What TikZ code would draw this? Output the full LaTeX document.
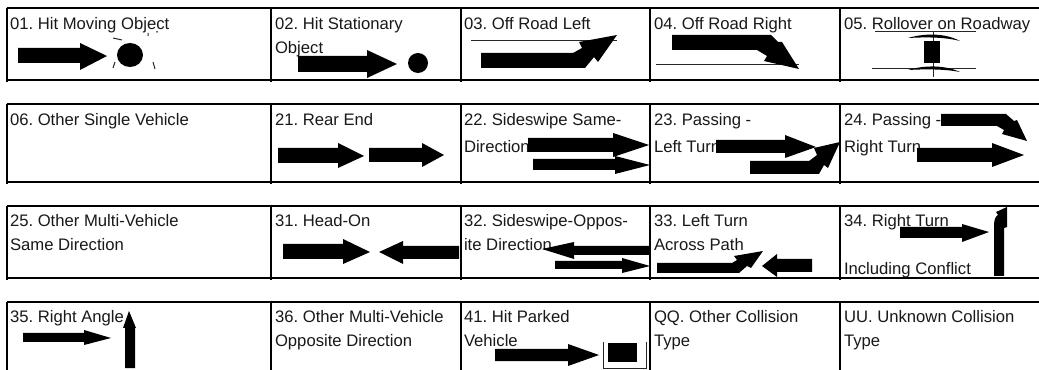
\documentclass[tikz,border=0pt]{standalone}
\usepackage{fontspec}
\setmainfont{Liberation Sans}
\frenchspacing
\tikzset{
  lab/.style={anchor=base west,inner sep=0pt,outer sep=0pt,font=\fontsize{12.5pt}{14pt}\selectfont,text=black!90,yshift=-0.6pt},
  grid/.style={draw=black,line width=1.3pt,line cap=butt},
  veh/.style={fill=black,draw=none},
  thin line/.style={draw=black!85,line width=0.75pt},
}
% right arrow: x0 xbase tip ytop ybot headtop headbot ytip
\newcommand{\arrowshape}[8]{\fill[veh] (#1,#4)--(#2,#4)--(#2,#6)--(#3,#8)--(#2,#7)--(#2,#5)--(#1,#5)--cycle;}
\begin{document}
\begin{tikzpicture}[x=0.75pt,y=-0.75pt]
\useasboundingbox (0,0) rectangle (1039,370);
\fill[white] (0,0) rectangle (1039,370);
% table rules
\foreach \a/\b in {8/82,104/184,206/280,302/370}{
  \foreach \x in {7,271,461,650,840}{\draw[grid] (\x,\a) -- (\x,\b);}
}
\foreach \y in {8,80,104,182,206,278,302}{\draw[grid] (6.5,\y) -- (1039,\y);}
% labels
\node[lab] (t01) at (10,29) {01. Hit Moving Object};
\node[lab] (t02) at (275,29) {02. Hit Stationary};
\node[lab] (t02b) at (275,53) {Object};
\node[lab] (t03) at (464,29) {03. Off Road Left};
\node[lab] (t04) at (654,29) {04. Off Road Right};
\node[lab] (t05) at (844,29) {05. Rollover on Roadway};
\node[lab] (t06) at (10,125) {06. Other Single Vehicle};
\node[lab] (t21) at (275,125) {21. Rear End};
\node[lab] (t22) at (464,125) {22. Sideswipe Same-};
\node[lab] (t22b) at (464,152) {Direction};
\node[lab] (t23) at (654,125) {23. Passing -};
\node[lab] (t23b) at (654,152) {Left Turn};
\node[lab] (t24) at (844,125) {24. Passing -};
\node[lab] (t24b) at (844,152) {Right Turn};
\node[lab] (t25) at (10,226) {25. Other Multi-Vehicle};
\node[lab] (t25b) at (10,250) {Same Direction};
\node[lab] (t31) at (275,226) {31. Head-On};
\node[lab] (t32) at (464,226) {32. Sideswipe-Oppos-};
\node[lab] (t32b) at (464,250) {ite Direction};
\node[lab] (t33) at (654,226) {33. Left Turn};
\node[lab] (t33b) at (654,250) {Across Path};
\node[lab] (t34) at (844,226) {34. Right Turn};
\node[lab] (t34b) at (844,274) {Including Conflict};
\node[lab] (t35) at (10,322) {35. Right Angle};
\node[lab] (t36) at (275,322) {36. Other Multi-Vehicle};
\node[lab] (t36b) at (275,346) {Opposite Direction};
\node[lab] (t41) at (464,322) {41. Hit Parked};
\node[lab] (t41b) at (464,346) {Vehicle};
\node[lab] (tqq) at (654,322) {QQ. Other Collision};
\node[lab] (tqqb) at (654,346) {Type};
\node[lab] (tuu) at (844,322) {UU. Unknown Collision};
\node[lab] (tuub) at (844,346) {Type};
% 01
\arrowshape{18}{80}{107}{48}{63}{43}{70}{56}
\fill[veh] (130,55) ellipse [x radius=13,y radius=12];
\draw[thin line] (113,38)--(122,40) (148,33)--(148,36) (156,32)--(158,32) (113,68)--(115,62) (153,62)--(155,69);
% 02
\arrowshape{298}{367}{397}{56}{72}{50}{78}{64}
\fill[veh] (418,63) circle [radius=10];
% 03
\draw[thin line] (471,41)--(617,41);
\fill[veh] (481,53)--(573,53)--(582,48)--(579,42)--(617,35)--(598,62)--(594,57)--(585,68)--(481,68)--cycle;
% 04
\draw[thin line] (656,65)--(799,65);
\fill[veh] (672,35)--(771,35)--(778,42)--(782,42)--(799,69)--(764,61)--(767,56)--(757,50)--(672,50)--cycle;
% 05
\draw[thin line] (875,32)--(976,32) (872,69)--(976,69) (933,31)--(933,77);
\fill[veh] (924,41) rectangle (940,63);
\fill[veh] (908,38) .. controls (925,33) and (945,33) .. (960,41) .. controls (945,37) and (925,37) .. (908,38) -- cycle;
\fill[veh] (908,70) .. controls (925,65) and (945,65) .. (960,72) .. controls (945,69) and (925,69) .. (908,70) -- cycle;
% 21
\arrowshape{278}{338}{364}{148}{163}{143}{168}{156}
\arrowshape{369}{422}{444}{148}{162}{143}{167}{155}
% 22
\arrowshape{528}{613}{649}{138}{152}{133}{157}{145}
\arrowshape{533}{615}{650}{159}{170}{156}{174}{165}
% 23
\arrowshape{716}{785}{816}{140}{153}{135}{158}{147}
\fill[veh] (750,161)--(809,161)--(817,155)--(814,148)--(840,142)--(828,168)--(824,165)--(819,174)--(750,174)--cycle;
% 24
\fill[veh] (941,114)--(1006,114)--(1014,121)--(1017,120)--(1027,141)--(1002,134)--(1004,130)--(997,126)--(941,126)--cycle;
\arrowshape{917}{992}{1024}{148}{162}{143}{167}{155}
% 31
\arrowshape{283}{343}{370}{244}{259}{239}{264}{252}
\arrowshape{459}{403}{379}{246}{259}{241}{264}{252}
% 32
\arrowshape{649}{574}{542}{246}{255}{242}{259}{249}
\arrowshape{555}{622}{650}{261}{269}{258}{273}{266}
% 33
\fill[veh] (657,263)--(732,263)--(737,260)--(734,256)--(763,251)--(751,268)--(747,266)--(739,273)--(657,273)--cycle;
\arrowshape{812}{777}{762}{259}{272}{254}{277}{266}
% 34
\arrowshape{900}{962}{989}{227}{238}{224}{242}{232}
\fill[veh] (994,276)--(994,225) .. controls (994,219) and (996,216) .. (998,215)--(996,212)--(1007,207)--(1007,227)--(1004,228)--(1004,276)--cycle;
% 35
\arrowshape{23}{84}{111}{333}{342}{330}{345}{338}
\fill[veh] (125,368)--(125,328)--(123,328)--(129,311)--(136,328)--(135,328)--(135,368)--cycle;
% 41
\arrowshape{495}{568}{599}{349}{361}{344}{366}{355}
\fill[veh] (608,343) rectangle (637,362);
\draw[thin line] (603,342)--(603,368)--(646,368)--(646,342);
\end{tikzpicture}
\end{document}
